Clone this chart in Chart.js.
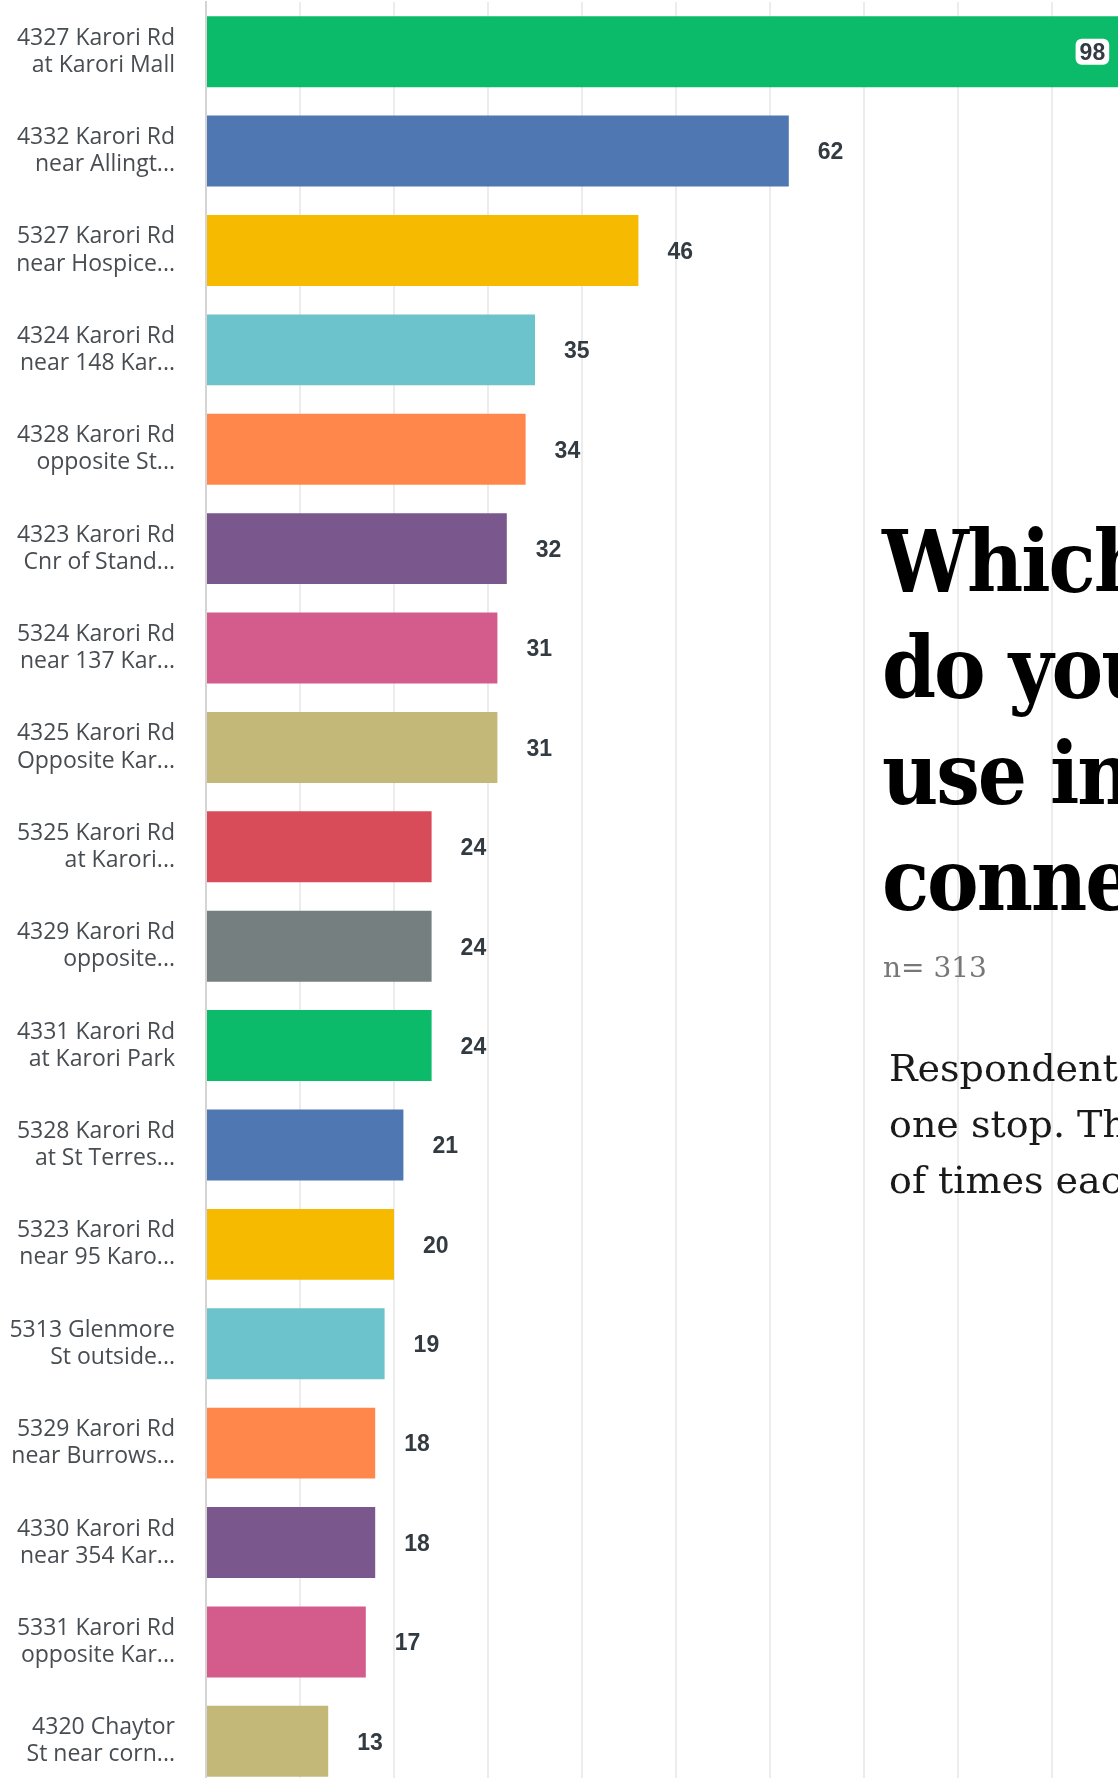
<!DOCTYPE html>
<html lang="en">
<head>
    <meta charset="UTF-8">
    <title>Which stop(s) do you use</title>
    <script src="https://cdn.jsdelivr.net/npm/chart.js"></script>
    <style>
        html, body { margin: 0; padding: 0; background: #fff; overflow: hidden; }
        #wrap { position: relative; width: 1200px; height: 1800px; }
        #grafico { position: absolute; left: 0; top: 0; }
        .titulo {
            position: absolute; left: 882px; top: 509px; white-space: nowrap;
            font-family: "DejaVu Serif Condensed", "DejaVu Serif", serif; font-stretch: condensed;
            letter-spacing: -2px;
            font-weight: bold; font-size: 86px; line-height: 106px; color: #000;
        }
        .n {
            position: absolute; left: 883px; top: 951px; white-space: nowrap;
            font-family: "DejaVu Serif", serif; font-size: 28px; color: #777;
        }
        .nota {
            position: absolute; left: 889px; top: 1040px; white-space: nowrap;
            font-family: "DejaVu Serif", serif; font-size: 38px; line-height: 56px; color: #1a1a1a;
        }
    </style>
</head>
<body>
<div id="wrap">
    <canvas id="grafico" width="1200" height="1800"></canvas>
    <div class="titulo">Which stop(s)<br>do you<br>use in<br>connection</div>
    <div class="n">n= 313</div>
    <div class="nota">Respondents could select more than<br>one stop. This shows the number<br>of times each stop was selected.</div>
</div>

<script>
    const paradas = [
        ['4327 Karori Rd', 'at Karori Mall'],
        ['4332 Karori Rd', 'near Allingt...'],
        ['5327 Karori Rd', 'near Hospice...'],
        ['4324 Karori Rd', 'near 148 Kar...'],
        ['4328 Karori Rd', 'opposite St...'],
        ['4323 Karori Rd', 'Cnr of Stand...'],
        ['5324 Karori Rd', 'near 137 Kar...'],
        ['4325 Karori Rd', 'Opposite Kar...'],
        ['5325 Karori Rd', 'at Karori...'],
        ['4329 Karori Rd', 'opposite...'],
        ['4331 Karori Rd', 'at Karori Park'],
        ['5328 Karori Rd', 'at St Terres...'],
        ['5323 Karori Rd', 'near 95 Karo...'],
        ['5313 Glenmore', 'St outside...'],
        ['5329 Karori Rd', 'near Burrows...'],
        ['4330 Karori Rd', 'near 354 Kar...'],
        ['5331 Karori Rd', 'opposite Kar...'],
        ['4320 Chaytor', 'St near corn...']
    ];
    const respuestas = [98, 62, 46, 35, 34, 32, 31, 31, 24, 24, 24, 21, 20, 19, 18, 18, 17, 13];
    const paleta = ['#0bbb6a', '#4f78b2', '#f6ba00', '#6cc3cb', '#ff874b',
                    '#7a578d', '#d35c8c', '#c3b878', '#d84b58', '#767f80'];

    // etiquetas de valor: fuera de la barra, o dentro con fondo blanco si no caben
    const etiquetasValor = {
        id: 'etiquetasValor',
        afterDatasetsDraw(chart) {
            const ctx = chart.ctx;
            const area = chart.chartArea;
            const meta = chart.getDatasetMeta(0);
            ctx.save();
            ctx.font = 'bold 23px "Liberation Sans", Arial, sans-serif';
            ctx.textBaseline = 'middle';
            meta.data.forEach((barra, i) => {
                const txt = String(respuestas[i]);
                const w = ctx.measureText(txt).width;
                let x = barra.x + 29;
                if (x + w > area.right) {
                    x = barra.x - 22 - w;
                    ctx.fillStyle = '#fff';
                    ctx.beginPath();
                    ctx.roundRect(x - 4, barra.y - 13, w + 8, 26, 6);
                    ctx.fill();
                }
                ctx.fillStyle = '#333b42';
                ctx.fillText(txt, x, barra.y + 2);
            });
            ctx.restore();
        }
    };

    new Chart(document.getElementById('grafico'), {
        type: 'bar',
        data: {
            labels: paradas,
            datasets: [{
                data: respuestas,
                backgroundColor: respuestas.map((v, i) => paleta[i % paleta.length]),
                borderWidth: 0,
                barPercentage: 0.714,
                categoryPercentage: 1
            }]
        },
        options: {
            indexAxis: 'y',
            responsive: false,
            animation: false,
            layout: { padding: { top: 2, right: 54, bottom: 9, left: 0 } },
            plugins: { legend: { display: false }, tooltip: { enabled: false } },
            scales: {
                x: {
                    min: 0,
                    max: 100,
                    ticks: { display: false, stepSize: 10 },
                    grid: { color: '#ececec', lineWidth: 2, drawTicks: false },
                    border: { display: false }
                },
                y: {
                    grid: { display: false, drawTicks: false },
                    border: { display: true, color: '#d4d4d4', width: 2 },
                    ticks: {
                        padding: 31,
                        color: '#484d52',
                        font: { family: '"Open Sans", sans-serif', size: 23, lineHeight: 1.18 }
                    },
                    afterFit(scale) {
                        scale.width = 206;
                        scale.paddingTop = 0;
                        scale.paddingBottom = 0;
                    }
                }
            }
        },
        plugins: [etiquetasValor]
    });
</script>
</body>
</html>
